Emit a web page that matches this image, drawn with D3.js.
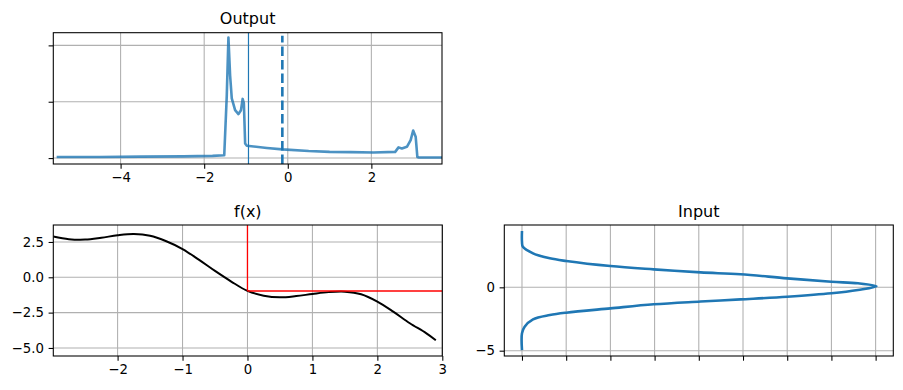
<!DOCTYPE html>
<html>
<head>
<meta charset="utf-8">
<script src="https://cdn.jsdelivr.net/npm/d3@7"></script>
<style>
  body { margin: 0; background: #fff; }
  text { font-family: "DejaVu Sans", sans-serif; }
</style>
</head>
<body>
<div id="chart"></div>
<script>
// ---- data ----
// Output panel (density of f(X))
const outX = [-5.53, -4.5, -3.5, -2.5, -1.8, -1.52, -1.46, -1.42, -1.38, -1.34, -1.26, -1.18, -1.12, -1.08, -1.05,
  -1.02, -0.98, -0.5, -0.13, 0.5, 1.0, 1.5, 2.05, 2.57, 2.65, 2.73, 2.85, 2.94, 3.0, 3.06, 3.10, 3.14, 3.69];
const outY = [0.02, 0.02, 0.025, 0.03, 0.04, 0.05, 1.1, 2.14, 1.47, 1.06, 0.85, 0.78, 0.85, 1.05, 0.97,
  0.26, 0.22, 0.18, 0.155, 0.125, 0.11, 0.105, 0.10, 0.11, 0.19, 0.17, 0.20, 0.32, 0.49, 0.38, 0.02, 0.01, 0.01];
const outF0 = -0.94;     // thin solid line
const outMean = -0.13;   // dashed line
const outMeanTop = 2.17;
const outXTicks = [-4, -2, 0, 2];
const outYTicks = [0, 1, 2];

// f(x) panel
const fX = [-2.99, -2.75, -2.5, -2.25, -2, -1.75, -1.5, -1.25, -1, -0.75, -0.5, -0.25, 0,
  0.25, 0.5, 0.75, 1, 1.25, 1.5, 1.75, 2, 2.25, 2.5, 2.75, 2.9];
const fY = [2.88, 2.70, 2.67, 2.80, 2.97, 3.06, 2.94, 2.55, 2.0, 1.25, 0.45, -0.3, -0.96,
  -1.30, -1.42, -1.33, -1.18, -1.05, -1.02, -1.20, -1.72, -2.45, -3.25, -3.95, -4.45];
const x0 = 0, f0 = -0.97;
const fXTicks = [-2, -1, 0, 1, 2, 3];
const fYTicks = [-5, -2.5, 0, 2.5];

// Input panel (density of X, drawn sideways)
const inVal = [4.45, 3.6, 3.2, 2.68, 2.29, 2.08, 1.68, 1.42, 1.18, 1.03, 0.71, 0.44, 0.32, 0.08,
  -0.21, -0.47, -0.74, -0.95, -1.12, -1.34, -1.66, -2.0, -2.19, -2.53, -3.11, -3.63, -4.95];
const inDens = [0.0, 0.0, 0.001, 0.0125, 0.0315, 0.05, 0.10, 0.149, 0.202, 0.247, 0.30, 0.35, 0.38, 0.401,
  0.38, 0.35, 0.30, 0.247, 0.202, 0.149, 0.10, 0.05, 0.0315, 0.0125, 0.003, 0.0, 0.0];
const inXTicks = [0, 0.05, 0.1, 0.15, 0.2, 0.25, 0.3, 0.35, 0.4];
const inYTicks = [-5, 0];

const W = 903, H = 390;
const svg = d3.select("#chart").append("svg")
  .attr("width", W).attr("height", H);

const gridCol = "#b0b0b0";
const tickLen = 4.7;

// one axes: box, grid, ticks, title
function panel(id, box, xDom, yDom, xTicks, yTicks, xFmt, yFmt, title) {
  const x = d3.scaleLinear().domain(xDom).range([box.left, box.right]);
  const y = d3.scaleLinear().domain(yDom).range([box.bottom, box.top]);
  const g = svg.append("g");

  g.append("clipPath").attr("id", id)
    .append("rect")
      .attr("x", box.left).attr("y", box.top)
      .attr("width", box.right - box.left).attr("height", box.bottom - box.top);

  // grid
  g.selectAll(".gx").data(xTicks).enter().append("line")
    .attr("x1", d => x(d)).attr("x2", d => x(d))
    .attr("y1", box.top).attr("y2", box.bottom)
    .attr("stroke", gridCol).attr("stroke-width", 1.07);
  g.selectAll(".gy").data(yTicks).enter().append("line")
    .attr("x1", box.left).attr("x2", box.right)
    .attr("y1", d => y(d)).attr("y2", d => y(d))
    .attr("stroke", gridCol).attr("stroke-width", 1.07);

  const ax = g.append("g")
    .attr("transform", "translate(0," + box.bottom + ")")
    .call(d3.axisBottom(x).tickValues(xTicks).tickFormat(xFmt).tickSize(tickLen).tickPadding(3.5));
  const ay = g.append("g")
    .attr("transform", "translate(" + box.left + ",0)")
    .call(d3.axisLeft(y).tickValues(yTicks).tickFormat(yFmt).tickSize(tickLen).tickPadding(4.7));
  [ax, ay].forEach(a => {
    a.select(".domain").remove();
    a.selectAll("line").attr("stroke", "#000").attr("stroke-width", 1.07);
    a.selectAll("text").attr("fill", "#000")
      .style("font-family", "'DejaVu Sans', sans-serif").style("font-size", "13.3px");
  });

  g.append("text")
    .attr("x", (box.left + box.right) / 2).attr("y", box.top - 8.5)
    .attr("text-anchor", "middle")
    .style("font-size", "16px")
    .text(title);

  const plot = g.append("g").attr("clip-path", "url(#" + id + ")");
  const frame = () => g.append("rect")
    .attr("x", box.left).attr("y", box.top)
    .attr("width", box.right - box.left).attr("height", box.bottom - box.top)
    .attr("fill", "none").attr("stroke", "#000").attr("stroke-width", 1.07);
  return { x, y, plot, frame };
}

// ---- Output ----
const p1 = panel("c1", {left: 53.3, right: 442, top: 32.7, bottom: 164},
  [-5.61, 3.69], [-0.105, 2.225], outXTicks, outYTicks, d3.format("d"), () => "", "Output");

p1.plot.append("path")
  .datum(outX.map((d, i) => [d, outY[i]]))
  .attr("fill", "none")
  .attr("stroke", "#1f77b4").attr("stroke-opacity", 0.8)
  .attr("stroke-width", 2.6).attr("stroke-linejoin", "round")
  .attr("d", d3.line().x(d => p1.x(d[0])).y(d => p1.y(d[1])));

p1.plot.append("line")
  .attr("x1", p1.x(outF0)).attr("x2", p1.x(outF0))
  .attr("y1", p1.y.range()[0]).attr("y2", p1.y.range()[1])
  .attr("stroke", "#1f77b4").attr("stroke-width", 1.2);

p1.plot.append("line")
  .attr("x1", p1.x(outMean)).attr("x2", p1.x(outMean))
  .attr("y1", p1.y.range()[0]).attr("y2", p1.y(outMeanTop))
  .attr("stroke", "#1f77b4").attr("stroke-width", 2.6)
  .attr("stroke-dasharray", "9.5,4");
p1.frame();

// ---- f(x) ----
const p2 = panel("c2", {left: 53.3, right: 442.3, top: 225, bottom: 356},
  [-2.99, 3], [-5.57, 3.70], fXTicks, fYTicks, d3.format("d"), d3.format(".1f"), "f(x)");

p2.plot.append("path")
  .datum(fX.map((d, i) => [d, fY[i]]))
  .attr("fill", "none").attr("stroke", "#000").attr("stroke-width", 2)
  .attr("d", d3.line().curve(d3.curveCatmullRom).x(d => p2.x(d[0])).y(d => p2.y(d[1])));

p2.plot.append("line")
  .attr("x1", p2.x(x0)).attr("x2", p2.x(x0))
  .attr("y1", p2.y.range()[1]).attr("y2", p2.y(f0))
  .attr("stroke", "red").attr("stroke-width", 1.3);
p2.plot.append("line")
  .attr("x1", p2.x(x0)).attr("x2", p2.x.range()[1])
  .attr("y1", p2.y(f0)).attr("y2", p2.y(f0))
  .attr("stroke", "red").attr("stroke-width", 1.3);
p2.frame();

// ---- Input ----
const p3 = panel("c3", {left: 504.3, right: 893.3, top: 225, bottom: 356},
  [-0.02, 0.42], [-5.42, 4.92], inXTicks, inYTicks, () => "", d3.format("d"), "Input");

p3.plot.append("path")
  .datum(inVal.map((d, i) => [inDens[i], d]))
  .attr("fill", "none").attr("stroke", "#1f77b4").attr("stroke-width", 2.6)
  .attr("stroke-linejoin", "round")
  .attr("d", d3.line().curve(d3.curveCatmullRom).x(d => p3.x(d[0])).y(d => p3.y(d[1])));
p3.frame();
</script>
</body>
</html>
